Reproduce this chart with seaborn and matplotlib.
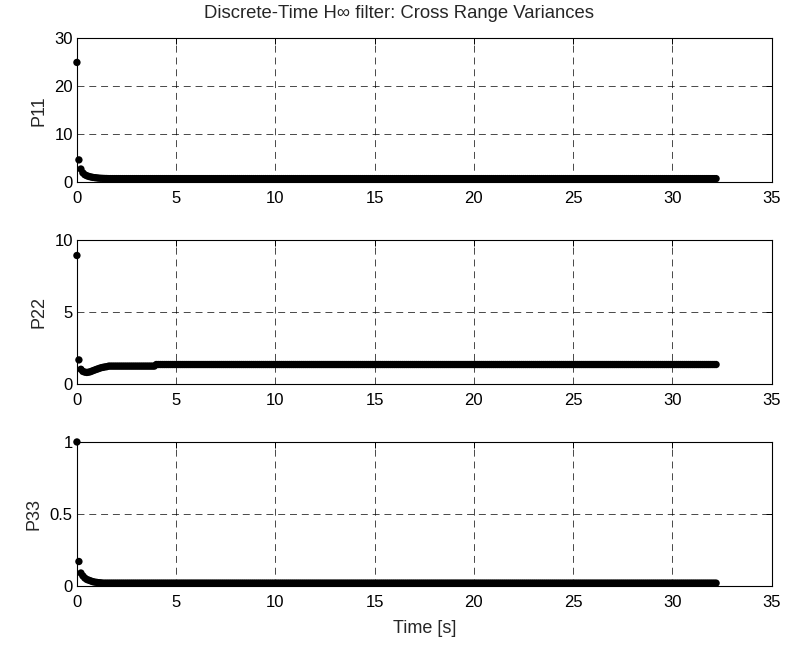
import numpy as np
import pandas as pd
import matplotlib
matplotlib.use("Agg")
import matplotlib.pyplot as plt
import seaborn as sns

# Sample period and run length of the filter
dt = 0.1
n_steps = 323

# Transient part of each diagonal covariance term, then the settled values
p11_transient = [25.0, 4.7, 2.8, 2.0, 1.6, 1.4, 1.25, 1.15, 1.05, 1.0,
                 0.95, 0.9, 0.87, 0.85, 0.83, 0.82]
p11_settled = 0.8

p22_transient = [8.9, 1.65, 1.0, 0.85, 0.8, 0.78, 0.8, 0.84, 0.9, 0.95,
                 1.0, 1.05, 1.1, 1.13, 1.16, 1.18]
p22_plateau = 1.22
p22_plateau_end = 4.0
p22_settled = 1.33

p33_transient = [1.0, 0.17, 0.09, 0.07, 0.055, 0.045, 0.04, 0.035, 0.03,
                 0.027, 0.025, 0.023, 0.022]
p33_settled = 0.02

x_ticks = [0, 5, 10, 15, 20, 25, 30, 35]
y_ticks = [[0, 10, 20, 30], [0, 5, 10], [0, 0.5, 1]]
y_tick_labels = [["0", "10", "20", "30"], ["0", "5", "10"], ["0", "0.5", "1"]]
y_labels = ["P11", "P22", "P33"]
title = "Discrete-Time H\u221e filter: Cross Range Variances"
x_label = "Time [s]"

time = np.round(np.arange(n_steps) * dt, 1)

p11 = p11_transient + [p11_settled] * (n_steps - len(p11_transient))
n_plateau = int(round(p22_plateau_end / dt)) - len(p22_transient)
p22 = (p22_transient + [p22_plateau] * n_plateau
       + [p22_settled] * (n_steps - len(p22_transient) - n_plateau))
p33 = p33_transient + [p33_settled] * (n_steps - len(p33_transient))

df = pd.DataFrame({"Time": time, "P11": p11, "P22": p22, "P33": p33})

sns.set_style("white")
plt.rcParams["font.family"] = ["Liberation Sans", "DejaVu Sans"]
plt.rcParams["font.size"] = 12

fig = plt.figure(figsize=(7.85, 6.47), dpi=100)
fig.patch.set_facecolor("white")

left, width, height = 0.098, 0.885, 0.2226
bottoms = [0.718, 0.407, 0.0943]

for i, (name, b) in enumerate(zip(y_labels, bottoms)):
    ax = fig.add_axes([left, b, width, height])
    sns.scatterplot(data=df, x="Time", y=name, ax=ax, color="black",
                    s=28, edgecolor="none", linewidth=0, legend=False,
                    clip_on=False, zorder=3)
    ax.set_xlim(0, 35)
    ax.set_ylim(y_ticks[i][0], y_ticks[i][-1])
    ax.set_xticks(x_ticks)
    ax.set_xticklabels([str(v) for v in x_ticks])
    ax.set_yticks(y_ticks[i])
    ax.set_yticklabels(y_tick_labels[i])
    ax.grid(True, color="black", linestyle=(0, (10, 7)), linewidth=0.5)
    ax.set_axisbelow(True)
    for sp in ax.spines.values():
        sp.set_visible(True)
        sp.set_color("black")
        sp.set_linewidth(0.8)
    ax.tick_params(direction="in", top=True, right=True, length=4,
                   width=0.7, labelsize=12, colors="black")
    ax.tick_params(axis="y", pad=3)
    ax.tick_params(axis="x", pad=6.5)
    ax.set_ylabel(name, fontsize=13, labelpad=5)
    if i == 2:
        ax.set_xlabel(x_label, fontsize=13, labelpad=7)
    else:
        ax.set_xlabel("")
    if i == 0:
        ax.set_title(title, fontsize=13.3, pad=15, x=0.463)

fig.savefig("out.png", dpi=100, facecolor="white")
